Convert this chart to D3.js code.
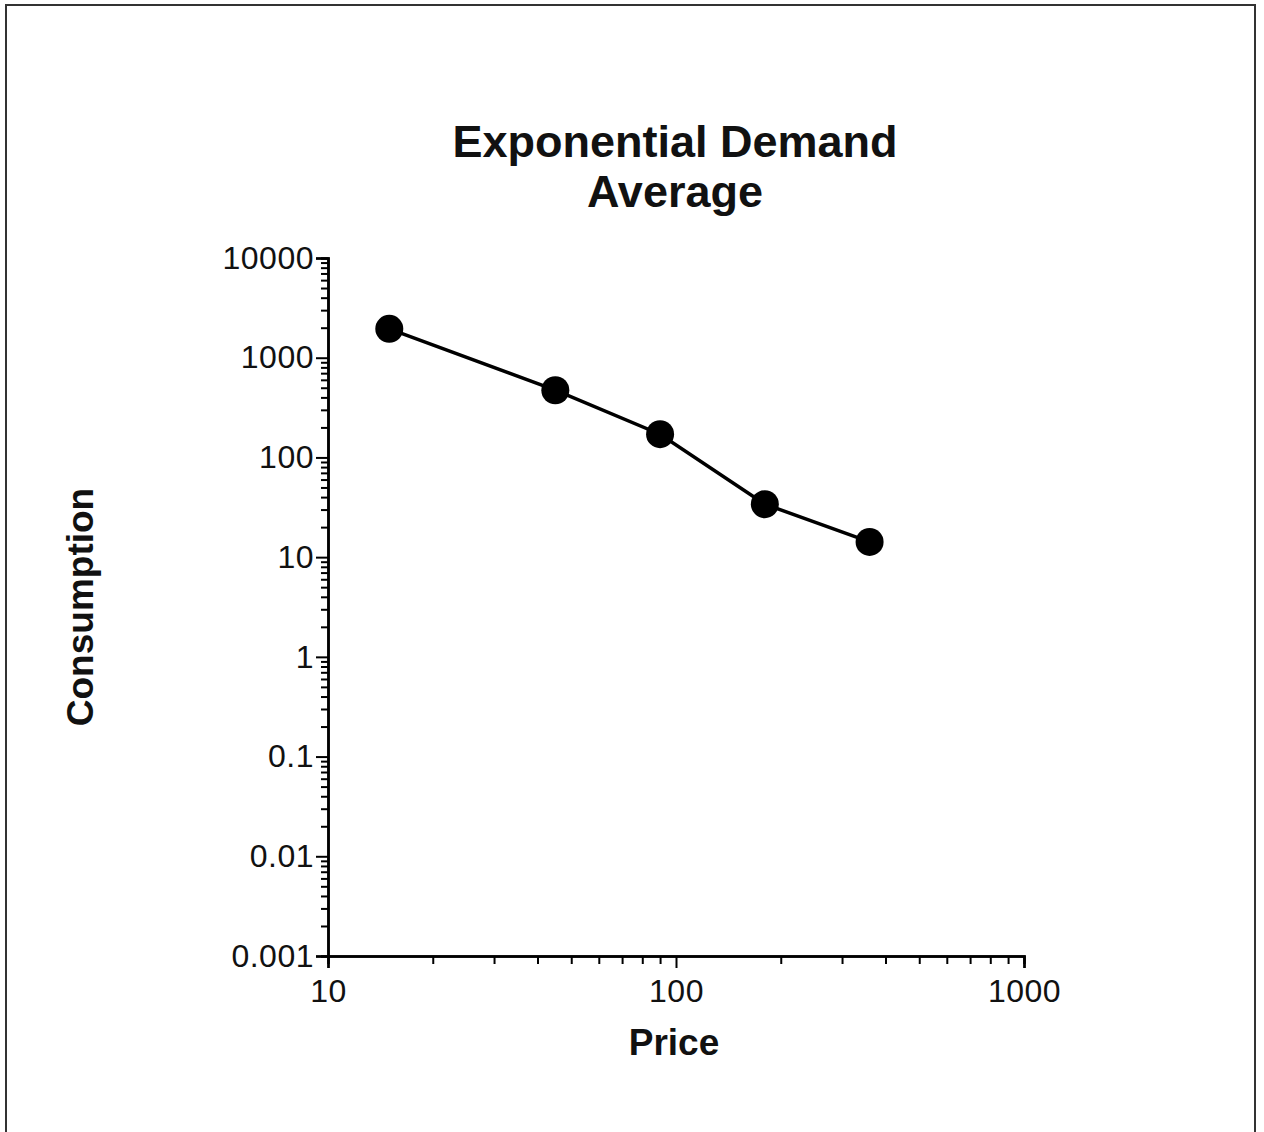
<!DOCTYPE html>
<html>
<head>
<meta charset="utf-8">
<script src="https://cdn.jsdelivr.net/npm/d3@7"></script>
<style>
  body { margin: 0; background: #fff; }
  svg { display: block; }
  text { font-family: "Liberation Sans", Arial, sans-serif; }
</style>
</head>
<body>
<div id="chart"></div>
<script>
// Data
const prices = [15, 45, 90, 180, 360];
const consumption = [1950, 472, 171, 34, 14.2];
const xTicks = [10, 100, 1000];
const xTickLabels = ["10", "100", "1000"];
const yTicks = [0.001, 0.01, 0.1, 1, 10, 100, 1000, 10000];
const yTickLabels = ["0.001", "0.01", "0.1", "1", "10", "100", "1000", "10000"];

const W = 1264, H = 1132;
const margin = { top: 258, left: 328 };
const width = 696, height = 698;

const svg = d3.select("#chart").append("svg")
  .attr("width", W)
  .attr("height", H);

// Frame round the whole picture
svg.append("rect")
  .attr("x", 6).attr("y", 5)
  .attr("width", 1249).attr("height", 1140)
  .style("fill", "none")
  .style("stroke", "#333")
  .style("stroke-width", 2);

const g = svg.append("g")
  .attr("transform", `translate(${margin.left}, ${margin.top})`);

const x = d3.scaleLog().domain([10, 1000]).range([0, width]);
const y = d3.scaleLog().domain([0.001, 10000]).range([height, 0]);

// minor ticks 2..9 in each decade
function minors(lo, hi) {
  const out = [];
  for (let p = lo; p < hi; p++) {
    for (let k = 2; k <= 9; k++) out.push(k * Math.pow(10, p));
  }
  return out;
}

// Minor tick axes
g.append("g")
  .attr("class", "minor")
  .call(d3.axisLeft(y).tickValues(minors(-3, 4)).tickSize(7).tickFormat(""));
g.append("g")
  .attr("class", "minor")
  .attr("transform", `translate(0, ${height})`)
  .call(d3.axisBottom(x).tickValues(minors(1, 3)).tickSize(8).tickFormat(""));

// Major tick axes
g.append("g")
  .call(d3.axisLeft(y).tickValues(yTicks).tickSize(12).tickPadding(2)
    .tickFormat((d, i) => yTickLabels[i]));
g.append("g")
  .attr("transform", `translate(0, ${height})`)
  .call(d3.axisBottom(x).tickValues(xTicks).tickSize(12).tickPadding(11)
    .tickFormat((d, i) => xTickLabels[i]));

g.selectAll(".domain").style("stroke", "#000").style("stroke-width", 2.5);
g.selectAll(".tick line").style("stroke", "#000").style("stroke-width", 2);
g.selectAll(".tick text")
  .style("font-size", "32px")
  .style("letter-spacing", "0.5px")
  .style("fill", "#111");

// Line
const line = d3.line()
  .x((d, i) => x(prices[i]))
  .y(d => y(d));

g.append("path")
  .datum(consumption)
  .attr("d", line)
  .style("fill", "none")
  .style("stroke", "#000")
  .style("stroke-width", 3.5);

// Points
g.selectAll(".dot")
  .data(consumption)
  .enter().append("circle")
  .attr("class", "dot")
  .attr("cx", (d, i) => x(prices[i]))
  .attr("cy", d => y(d))
  .attr("r", 14)
  .style("fill", "#000");

// Title
const title = svg.append("text")
  .attr("text-anchor", "middle")
  .style("font-size", "45px")
  .style("font-weight", "bold")
  .style("fill", "#111");
title.append("tspan").attr("x", 675).attr("y", 157).text("Exponential Demand");
title.append("tspan").attr("x", 675).attr("y", 207).text("Average");

// Axis titles
svg.append("text")
  .attr("x", 674)
  .attr("y", 1055)
  .attr("text-anchor", "middle")
  .style("font-size", "37px")
  .style("font-weight", "bold")
  .style("fill", "#111")
  .text("Price");

svg.append("text")
  .attr("transform", "translate(93, 607) rotate(-90)")
  .attr("text-anchor", "middle")
  .style("font-size", "37px")
  .style("font-weight", "bold")
  .style("fill", "#111")
  .text("Consumption");
</script>
</body>
</html>
